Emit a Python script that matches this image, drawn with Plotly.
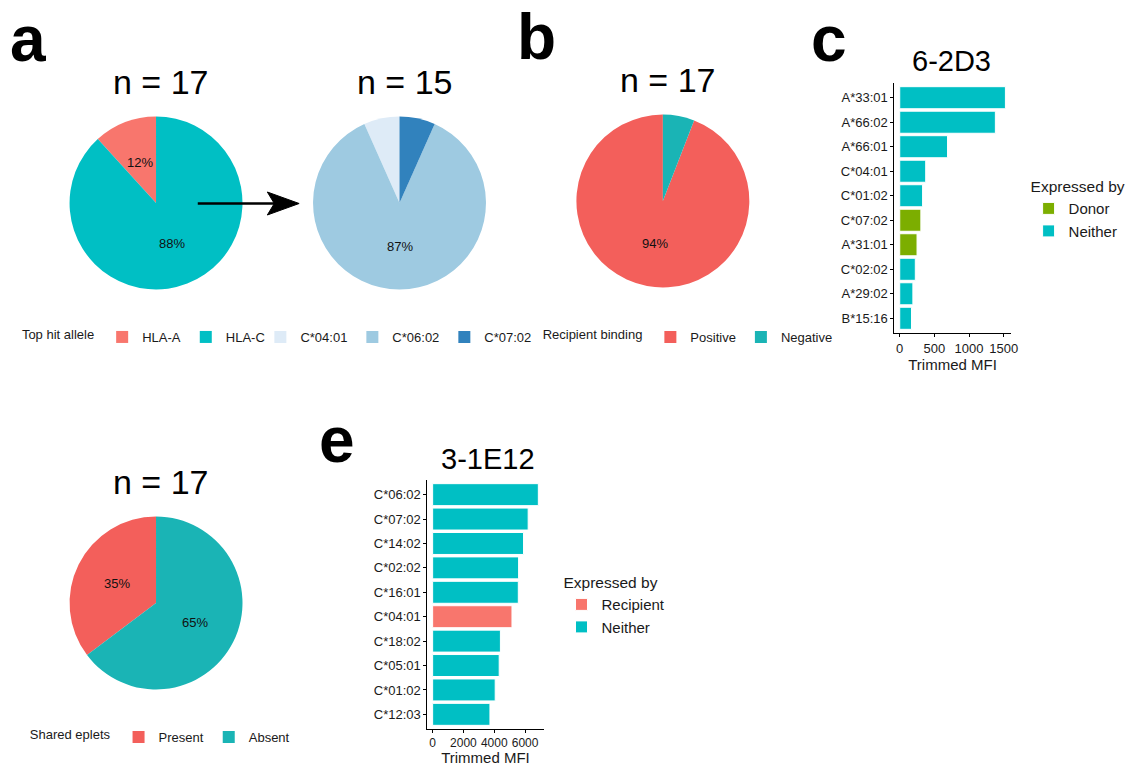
import math
import plotly.graph_objects as go

W, H = 1131, 766

# ---------------- data ----------------
pie1_labels = ["HLA-A", "HLA-C"]
pie1_values = [2, 15]
pie1_colors = ["#F8766D", "#00BFC4"]

pie2_labels = ["C*04:01", "C*06:02", "C*07:02"]
pie2_values = [1, 13, 1]
pie2_colors = ["#DEEBF7", "#9ECAE1", "#3182BD"]

pieb_labels = ["Positive", "Negative"]
pieb_values = [16, 1]
pieb_colors = ["#F35F5B", "#1AB4B5"]

pied_labels = ["Present", "Absent"]
pied_values = [6, 11]
pied_colors = ["#F35F5B", "#1AB4B5"]

c_alleles = ["A*33:01", "A*66:02", "A*66:01", "C*04:01", "C*01:02",
             "C*07:02", "A*31:01", "C*02:02", "A*29:02", "B*15:16"]
c_mfi = [1525, 1380, 690, 375, 330, 305, 250, 225, 190, 170]
c_expr = ["Neither", "Neither", "Neither", "Neither", "Neither",
          "Donor", "Donor", "Neither", "Neither", "Neither"]
c_groups = ["Donor", "Neither"]
c_colors = {"Donor": "#7CAE00", "Neither": "#00BFC4"}

e_alleles = ["C*06:02", "C*07:02", "C*14:02", "C*02:02", "C*16:01",
             "C*04:01", "C*18:02", "C*05:01", "C*01:02", "C*12:03"]
e_mfi = [6860, 6200, 5900, 5580, 5560, 5150, 4400, 4320, 4060, 3720]
e_expr = ["Neither", "Neither", "Neither", "Neither", "Neither",
          "Recipient", "Neither", "Neither", "Neither", "Neither"]
e_groups = ["Recipient", "Neither"]
e_colors = {"Recipient": "#F8766D", "Neither": "#00BFC4"}

# ---------------- helpers ----------------
def px(x):
    return x / W

def py(y):
    return 1 - y / H

FONT = "Liberation Sans, Arial, sans-serif"
fig = go.Figure()
annotations = []
shapes = []

pies = [
    (pie1_labels, pie1_values, pie1_colors, (157, 203), 87, "n = 17", "legend"),
    (pie2_labels, pie2_values, pie2_colors, (402, 203), 87, "n = 15", "legend2"),
    (pieb_labels, pieb_values, pieb_colors, (667, 201), 87, "n = 17", "legend3"),
    (pied_labels, pied_values, pied_colors, (157, 603), 87, "n = 17", "legend4"),
]

for labels, values, colors, (cx, cy), r, title, leg in pies:
    total = sum(values)
    fig.add_trace(go.Pie(
        labels=labels, values=values, sort=False, direction="counterclockwise",
        rotation=-360 * values[0] / total,
        marker=dict(colors=colors, line=dict(width=0)),
        textinfo="none", hoverinfo="label+percent",
        domain=dict(x=[px(cx - r), px(cx + r)], y=[py(cy + r), py(cy - r)]),
        legend=leg, showlegend=True,
    ))
    cum = 0
    for v in values:
        frac = v / total
        mid = (cum + frac / 2) * 2 * math.pi
        cum += frac
        if frac < 0.1:
            continue
        rl = r / 2
        lx = cx - rl * math.sin(mid)
        ly = cy - rl * math.cos(mid)
        annotations.append(dict(x=px(lx), y=py(ly), xref="paper", yref="paper",
                                text=f"{round(100 * frac)}%", showarrow=False,
                                font=dict(size=13, color="#111", family=FONT),
                                xanchor="center", yanchor="middle"))
    annotations.append(dict(x=px(cx + 5), y=py(cy - r - 34), xref="paper", yref="paper",
                            text=title, showarrow=False,
                            font=dict(size=34, color="black", family=FONT),
                            xanchor="center", yanchor="middle"))

# ---------------- bar charts ----------------
def add_bars(alleles, mfi, expr, groups, colors, xa, ya, leg):
    for g in groups:
        ys = [a for a, e in zip(alleles, expr) if e == g]
        xs = [m for m, e in zip(mfi, expr) if e == g]
        fig.add_trace(go.Bar(
            x=xs, y=ys, orientation="h", name=g, width=0.9,
            marker=dict(color=colors[g], line=dict(color="white", width=1)),
            xaxis=xa, yaxis=ya, legend=leg, showlegend=True,
        ))

add_bars(c_alleles, c_mfi, c_expr, c_groups, c_colors, "x", "y", "legend5")
add_bars(e_alleles, e_mfi, e_expr, e_groups, e_colors, "x2", "y2", "legend6")

axis_common = dict(showgrid=False, zeroline=False, showline=True, linecolor="black",
                   linewidth=1, ticks="outside", ticklen=3, tickcolor="black",
                   tickwidth=1, tickangle=0)
tick13 = dict(size=13, color="#1a1a1a", family=FONT)

cmax = max(c_mfi)
emax = max(e_mfi)

fig.update_layout(
    xaxis=dict(domain=[px(900), px(1017)], range=[-0.05 * cmax, 1.05 * cmax],
               tickvals=[0, 500, 1000, 1500], anchor="y", tickfont=tick13,
               title=dict(text="Trimmed MFI", font=dict(size=15, color="#1a1a1a", family=FONT), standoff=2),
               **axis_common),
    yaxis=dict(domain=[py(333), py(83)], type="category", categoryorder="array",
               categoryarray=c_alleles, range=[len(c_alleles) - 0.4, -0.6], anchor="x",
               tickfont=tick13, **axis_common),
    xaxis2=dict(domain=[px(430), px(547)], range=[-0.05 * emax, 1.05 * emax],
                tickvals=[0, 2000, 4000, 6000], anchor="y2",
                tickfont=dict(size=12, color="#1a1a1a", family=FONT),
                title=dict(text="Trimmed MFI", font=dict(size=15, color="#1a1a1a", family=FONT), standoff=2),
                **axis_common),
    yaxis2=dict(domain=[py(729), py(480)], type="category", categoryorder="array",
                categoryarray=e_alleles, range=[len(e_alleles) - 0.4, -0.6], anchor="x2",
                tickfont=tick13, **axis_common),
    barmode="overlay",
)

annotations.append(dict(x=px(957), y=py(61), xref="paper", yref="paper", text="6-2D3",
                        showarrow=False, font=dict(size=29, color="black", family=FONT),
                        xanchor="center", yanchor="middle"))
annotations.append(dict(x=px(491), y=py(459), xref="paper", yref="paper", text="3-1E12",
                        showarrow=False, font=dict(size=29, color="black", family=FONT),
                        xanchor="center", yanchor="middle"))

for letter, (lx, ly) in {"a": (28, 39), "b": (540, 37), "c": (834, 39), "e": (339, 440)}.items():
    annotations.append(dict(x=px(lx), y=py(ly), xref="paper", yref="paper",
                            text=f"<b>{letter}</b>", showarrow=False,
                            font=dict(size=64, color="black", family=FONT),
                            xanchor="center", yanchor="middle"))

shapes.append(dict(type="line", xref="paper", yref="paper",
                   x0=px(199), y0=py(203.5), x1=px(278), y1=py(203.5),
                   line=dict(color="black", width=2.5)))
shapes.append(dict(type="path", xref="paper", yref="paper",
                   path=f"M {px(269)},{py(192)} L {px(301)},{py(203.5)} L {px(269)},{py(215)} L {px(276)},{py(203.5)} Z",
                   fillcolor="black", line=dict(color="black", width=1)))

leg_h = dict(orientation="h", bgcolor="rgba(0,0,0,0)", font=dict(size=13, color="#1a1a1a", family=FONT),
             xanchor="left", yanchor="middle", itemwidth=30, traceorder="normal")
leg_v = dict(orientation="v", bgcolor="rgba(0,0,0,0)", font=dict(size=15, color="#1a1a1a", family=FONT),
             xanchor="left", yanchor="top", itemwidth=30, traceorder="normal")
tfont13 = dict(size=13, color="#1a1a1a", family=FONT)
tfont15 = dict(size=15.5, color="#1a1a1a", family=FONT)

fig.update_layout(
    width=W, height=H, margin=dict(l=0, r=0, t=0, b=0),
    paper_bgcolor="white", plot_bgcolor="white",
    font=dict(family=FONT, color="#1a1a1a"),
    annotations=annotations, shapes=shapes,
    legend=dict(x=px(20), y=py(337),
                title=dict(text="Top hit allele", side="left", font=tfont13), **leg_h),
    legend2=dict(x=px(262), y=py(337), **leg_h),
    legend3=dict(x=px(544), y=py(337),
                 title=dict(text="Recipient binding", side="left", font=tfont13), **leg_h),
    legend4=dict(x=px(28), y=py(737),
                 title=dict(text="Shared eplets", side="left", font=tfont13), **leg_h),
    legend5=dict(x=px(1035), y=py(172), title=dict(text="Expressed by", side="top", font=tfont15), **leg_v),
    legend6=dict(x=px(565), y=py(568), title=dict(text="Expressed by", side="top", font=tfont15), **leg_v),
)

fig.write_html("out.html")
